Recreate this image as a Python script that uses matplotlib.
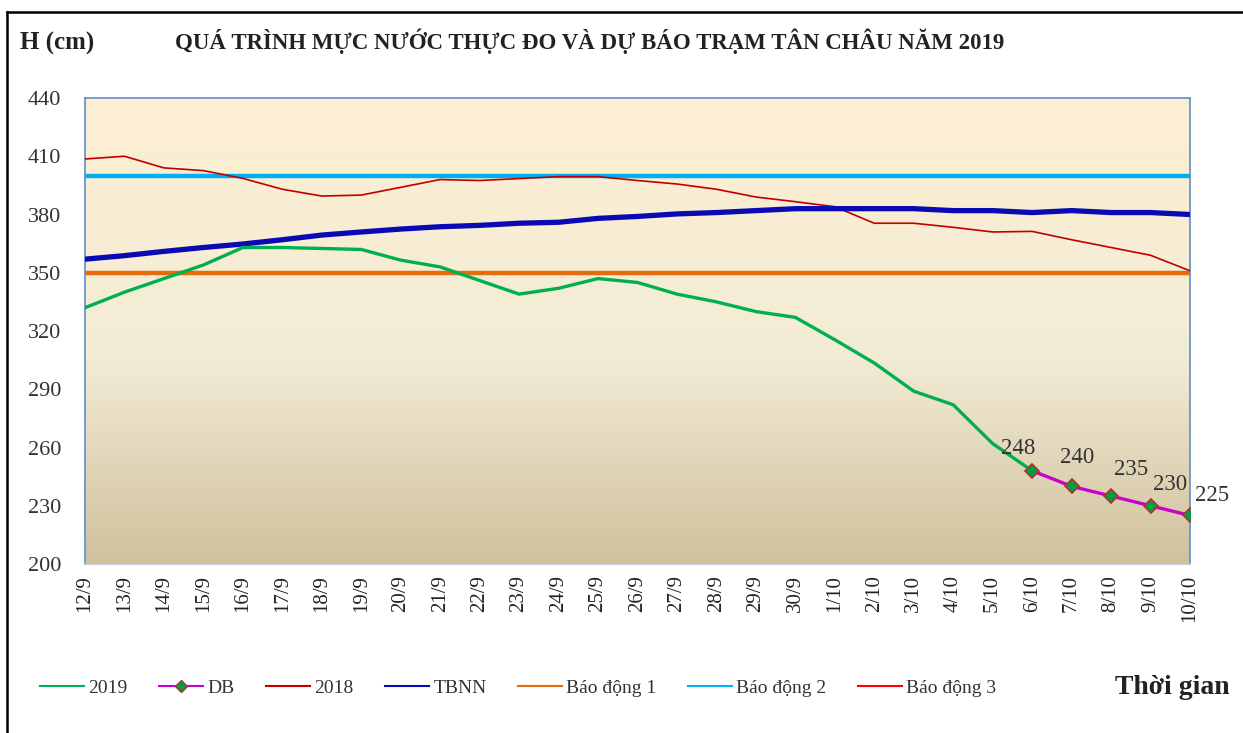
import matplotlib.pyplot as plt
from matplotlib.lines import Line2D
import numpy as np

plt.rcParams['font.family'] = ['Liberation Serif', 'DejaVu Serif']

# dates on the x axis
dates = ['12/9', '13/9', '14/9', '15/9', '16/9', '17/9', '18/9', '19/9', '20/9', '21/9',
         '22/9', '23/9', '24/9', '25/9', '26/9', '27/9', '28/9', '29/9', '30/9',
         '1/10', '2/10', '3/10', '4/10', '5/10', '6/10', '7/10', '8/10', '9/10', '10/10']

# observed 2019 (up to 6/10)
h2019 = [332, 340, 347, 354, 363, 363, 362.5, 362, 356.5, 353, 346, 339, 342, 347, 345,
         339, 335, 330, 327, 315.5, 303.5, 289, 282, 262, 248]
# forecast DB (6/10 - 10/10)
db_dates = ['6/10', '7/10', '8/10', '9/10', '10/10']
db = [248, 240, 235, 230, 225]
# 2018
h2018 = [408.6, 410, 404, 402.6, 398.6, 393, 389.5, 390, 394, 398, 397.5, 398.5, 399.5,
         399.5, 397.5, 395.7, 393, 389, 386.6, 384, 375.5, 375.5, 373.4, 371, 371.3,
         367, 363, 359, 351]
# TBNN (multi-year average)
tbnn = [357, 358.8, 361, 363, 364.8, 367, 369.4, 371, 372.5, 373.7, 374.4, 375.5, 376,
        378, 379, 380.3, 381, 382, 383, 383, 383, 383, 382, 382, 381, 382, 381, 381, 380]
# alarm levels
bd1, bd2, bd3 = 350, 400, 450

W, H = 1243, 733
fig = plt.figure(figsize=(W / 100, H / 100), dpi=100)
ax = fig.add_axes([85 / W, 1 - 564 / H, (1190 - 85) / W, (564 - 98) / H])

x = np.arange(len(dates))
x_db = [dates.index(d) for d in db_dates]

# gradient background
grad = np.linspace(0, 1, 256)
top = np.array([253, 239, 210]) / 255
mid = np.array([243, 236, 214]) / 255
bot = np.array([208, 193, 157]) / 255
cols = []
for g in grad:
    if g < 0.55:
        c = top + (mid - top) * g / 0.55
    else:
        c = mid + (bot - mid) * (g - 0.55) / 0.45
    cols.append(c)
img = np.array(cols)[:, None, :]
ax.imshow(img, extent=[0, 1, 0, 1], transform=ax.transAxes, aspect='auto', zorder=0)

ax.axhline(bd1, color='#E46C0A', lw=3.2, zorder=2)
ax.axhline(bd2, color='#00B0F0', lw=3.2, zorder=2)
ax.axhline(bd3, color='#FF0000', lw=1.2, zorder=2)
ax.plot(x, h2018, color='#C00000', lw=1.2, zorder=3)
ax.plot(x, tbnn, color='#0A0AB4', lw=3.8, zorder=3)
ax.plot(x[:len(h2019)], h2019, color='#00B050', lw=2.4, zorder=4)
ax.plot(x_db, db, color='#CC00CC', lw=2.4, marker='D', ms=7,
        mfc='#00A040', mec='#B03030', mew=1.2, zorder=5)

# data labels for the forecast (offsets in pixels)
lbl_off = [(-14, 12), (6, 18), (20, 16), (20, 11), (22, 9)]
for xi, v, off in zip(x_db, db, lbl_off):
    ax.annotate(str(v), (xi, v), xytext=(off[0] * 0.72, off[1] * 0.72),
                textcoords='offset points', ha='center', va='bottom',
                fontsize=16.5, color='#333333', zorder=6)

ax.set_xlim(0, len(dates) - 1)
ax.set_ylim(200, 440)
ax.set_yticks(np.arange(200, 441, 30))
ax.set_xticks(x)
ax.set_xticklabels(dates, rotation=90, fontsize=15, color='#222222')
ax.tick_params(axis='y', labelsize=16, length=0, pad=17, labelcolor='#333333')
ax.tick_params(axis='x', length=0, pad=8)
for s in ['left', 'top', 'right']:
    ax.spines[s].set_color('#5B8FC9')
    ax.spines[s].set_linewidth(1.2)
ax.spines['bottom'].set_color('#B8C4D0')
ax.spines['bottom'].set_linewidth(1.2)

fig.text(20 / W, 1 - 43 / H, 'H (cm)', fontsize=18, fontweight='bold',
         va='center', ha='left', color='#222222')
fig.text(175 / W, 1 - 41 / H,
         'QUÁ TRÌNH MỰC NƯỚC THỰC ĐO VÀ DỰ BÁO TRẠM TÂN CHÂU NĂM 2019',
         fontsize=16.5, fontweight='bold', va='center', ha='left', color='#222222')

handles = [
    Line2D([], [], color='#00B050', lw=1.5),
    Line2D([], [], color='#CC00CC', lw=1.5, marker='D', ms=6, mfc='#00A040', mec='#B03030'),
    Line2D([], [], color='#C00000', lw=1.5),
    Line2D([], [], color='#0A0AB4', lw=1.5),
    Line2D([], [], color='#E46C0A', lw=1.5),
    Line2D([], [], color='#00B0F0', lw=1.5),
    Line2D([], [], color='#FF0000', lw=1.5),
]
labels = ['2019', 'DB', '2018', 'TBNN', 'Báo động 1', 'Báo động 2', 'Báo động 3']
leg = fig.legend(handles, labels, loc='center', bbox_to_anchor=(518 / W, 1 - 688 / H),
                 ncol=7, frameon=False, fontsize=14, handlelength=2.3,
                 handletextpad=0.2, columnspacing=1.6)
for t in leg.get_texts():
    t.set_color('#333333')
fig.text(1115 / W, 1 - 688 / H, 'Thời gian', fontsize=20, fontweight='bold',
         va='center', ha='left', color='#222222')

# outer frame (left and top edges visible)
fig.add_artist(Line2D([7 / W, 7 / W], [0, 1 - 12 / H], color='black', lw=1.8,
                      transform=fig.transFigure))
fig.add_artist(Line2D([7 / W, 1], [1 - 12 / H, 1 - 12 / H], color='black', lw=1.8,
                      transform=fig.transFigure))

fig.savefig('out.png', dpi=100)
